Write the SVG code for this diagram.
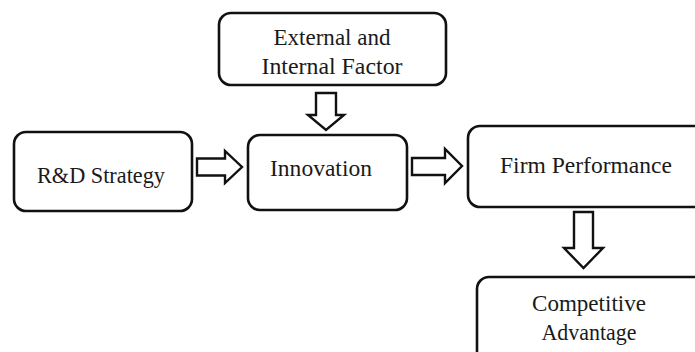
<svg xmlns="http://www.w3.org/2000/svg" width="695" height="352" viewBox="0 0 695 352">
<style>
.box{fill:#fff;stroke:#111;stroke-width:2.6}
.arr{fill:#fff;stroke:#111;stroke-width:2.4;stroke-linejoin:miter}
text{font-family:"Liberation Serif","DejaVu Serif",serif;font-size:22.5px;fill:#1a1a1a;text-anchor:middle}
</style>
<rect width="695" height="352" fill="#fff"/>
<g id="connectors">
<path class="arr" d="M316,93 L336,93 L336,115 L344,115 L326,130 L308,115 L316,115 Z"/>
<path class="arr" d="M197,158.5 L225,158.5 L225,151 L242,167 L225,183 L225,175.5 L197,175.5 Z"/>
<path class="arr" d="M412,158 L445,158 L445,149 L462,166 L445,183 L445,175 L412,175 Z"/>
<path class="arr" d="M574,212 L593,212 L593,248 L603,248 L583.5,268 L564,248 L574,248 Z"/>
</g>
<g id="external">
<rect class="box" x="219" y="13" width="227" height="72" rx="12"/>
<text x="332" y="45" textLength="117" lengthAdjust="spacingAndGlyphs">External and</text>
<text x="332" y="74" textLength="141" lengthAdjust="spacingAndGlyphs">Internal Factor</text>
</g>
<g id="rd">
<rect class="box" x="14" y="132" width="178" height="79" rx="12"/>
<text x="101" y="183" textLength="128" lengthAdjust="spacingAndGlyphs">R&amp;D Strategy</text>
</g>
<g id="innovation">
<rect class="box" x="248" y="135" width="159" height="75" rx="12"/>
<text x="321" y="176" textLength="102" lengthAdjust="spacingAndGlyphs">Innovation</text>
</g>
<g id="firm">
<rect class="box" x="468" y="126" width="240" height="81" rx="12"/>
<text x="586" y="173" textLength="172" lengthAdjust="spacingAndGlyphs">Firm Performance</text>
</g>
<g id="competitive">
<rect class="box" x="477" y="277" width="240" height="90" rx="12"/>
<text x="589" y="311" textLength="114" lengthAdjust="spacingAndGlyphs">Competitive</text>
<text x="589" y="340" textLength="95" lengthAdjust="spacingAndGlyphs">Advantage</text>
</g>
</svg>
